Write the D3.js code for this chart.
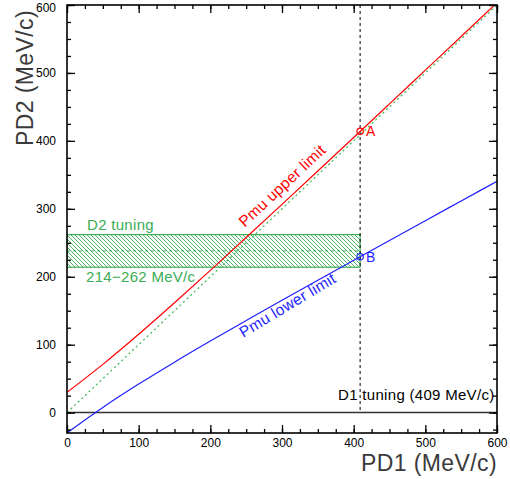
<!DOCTYPE html>
<html>
<head>
<meta charset="utf-8">
<script src="https://cdn.jsdelivr.net/npm/d3@7"></script>
<style>
    body { margin: 0; background: #fff; }
    svg { display: block; font-family: "Liberation Sans", Arial, sans-serif; }
</style>
</head>
<body>
<div id="chart"></div>
<script>
// PD1 sample points and the muon momentum limits
const pd1 = [0, 50, 100, 150, 200, 250, 300, 350, 400, 450, 500, 550, 600]
const pmuUpper = [29.8, 71.0, 115.3, 161.7, 209.4, 257.8, 306.6, 355.7, 405.0, 454.5, 504.1, 553.7, 603.4]
const pmuLower = [-29.8, 7.7, 42.0, 74.3, 105.3, 135.5, 165.3, 194.9, 224.2, 253.4, 282.5, 311.5, 340.5]

// PD2 = PD1 reference line
const diagX = [0, 600]
const diagY = [0, 600]

const d1Tuning = 409
const d2Range = [214, 262]
const pointA = [409, 414]
const pointB = [409, 229.5]

const xMajor = [0, 100, 200, 300, 400, 500, 600]
const yMajor = [0, 100, 200, 300, 400, 500, 600]
const xMinor = d3.range(0, 601, 25)
const yMinor = d3.range(-25, 601, 25)

const width = 510
const height = 479
const red = "#ff0000"
const blue = "#1f1fff"
const green = "#3aad55"

const x = d3.scaleLinear().domain([0, 600]).range([67, 497])
const y = d3.scaleLinear().domain([-30, 600]).range([433, 5])

const svg = d3
    .select("#chart")
    .append("svg")
    .attr("width", width)
    .attr("height", height)

const defs = svg.append("defs")
defs.append("clipPath")
    .attr("id", "plot")
    .append("rect")
    .attr("x", x(0))
    .attr("y", y(600))
    .attr("width", x(600) - x(0))
    .attr("height", y(-30) - y(600))

// "\" hatching for the D2 band
const hatch = defs
    .append("pattern")
    .attr("id", "hatch")
    .attr("patternUnits", "userSpaceOnUse")
    .attr("width", 4)
    .attr("height", 4)
hatch.append("path")
    .attr("d", "M-1,-1 L5,5 M-1,3 L1,5 M3,-1 L5,1")
    .attr("stroke", green)
    .attr("stroke-width", 0.9)

const plot = svg.append("g").attr("clip-path", "url(#plot)")

// D2 tuning band
plot.append("rect")
    .attr("x", x(0))
    .attr("y", y(d2Range[1]))
    .attr("width", x(d1Tuning) - x(0))
    .attr("height", y(d2Range[0]) - y(d2Range[1]))
    .attr("fill", "url(#hatch)")
    .attr("stroke", green)
    .attr("stroke-width", 1.2)

plot.append("line")
    .attr("x1", x(0))
    .attr("x2", x(d1Tuning))
    .attr("y1", y((d2Range[0] + d2Range[1]) / 2))
    .attr("y2", y((d2Range[0] + d2Range[1]) / 2))
    .attr("stroke", green)
    .attr("stroke-dasharray", "3,3")

// zero line
plot.append("line")
    .attr("x1", x(0))
    .attr("x2", x(600))
    .attr("y1", y(0))
    .attr("y2", y(0))
    .attr("stroke", "#333")
    .attr("stroke-width", 1.5)

// D1 tuning
plot.append("line")
    .attr("x1", x(d1Tuning))
    .attr("x2", x(d1Tuning))
    .attr("y1", y(600))
    .attr("y2", y(0))
    .attr("stroke", "#000")
    .attr("stroke-dasharray", "3,3")

const line = d3
    .line()
    .x(d => x(d[0]))
    .y(d => y(d[1]))
    .curve(d3.curveMonotoneX)

plot.append("path")
    .attr("d", line(diagX.map((v, i) => [v, diagY[i]])))
    .attr("fill", "none")
    .attr("stroke", "#45bb5f")
    .attr("stroke-width", 1.3)
    .attr("stroke-dasharray", "2,3")

plot.append("path")
    .attr("d", line(pd1.map((v, i) => [v, pmuUpper[i]])))
    .attr("fill", "none")
    .attr("stroke", red)
    .attr("stroke-width", 1.2)

plot.append("path")
    .attr("d", line(pd1.map((v, i) => [v, pmuLower[i]])))
    .attr("fill", "none")
    .attr("stroke", blue)
    .attr("stroke-width", 1.2)

// axes: ticks point inward on all four sides
const axes = svg.append("g").attr("font-size", 12)

const drawAxis = (axis, tx, ty) => {
    const g = axes.append("g").attr("transform", `translate(${tx},${ty})`).call(axis)
    g.select(".domain").remove()
    g.selectAll("line").attr("stroke", "#000").attr("stroke-width", 1.3)
    g.selectAll("text").attr("fill", "#000").attr("font-size", 12).attr("font-family", null)
    return g
}

drawAxis(d3.axisBottom(x).tickValues(xMajor).tickSizeInner(-8).tickSizeOuter(0).tickPadding(5).tickFormat(d3.format("d")), 0, y(-30))
drawAxis(d3.axisBottom(x).tickValues(xMinor).tickSizeInner(-4).tickSizeOuter(0).tickFormat(""), 0, y(-30))
drawAxis(d3.axisTop(x).tickValues(xMajor).tickSizeInner(-8).tickSizeOuter(0).tickFormat(""), 0, y(600))
drawAxis(d3.axisTop(x).tickValues(xMinor).tickSizeInner(-4).tickSizeOuter(0).tickFormat(""), 0, y(600))
const yAxis = drawAxis(d3.axisLeft(y).tickValues(yMajor).tickSizeInner(-8).tickSizeOuter(0).tickPadding(11).tickFormat(d3.format("d")), x(0), 0)
yAxis.selectAll("text").filter(d => d === 600).attr("dy", "0.55em")
drawAxis(d3.axisLeft(y).tickValues(yMinor).tickSizeInner(-4).tickSizeOuter(0).tickFormat(""), x(0), 0)
drawAxis(d3.axisRight(y).tickValues(yMajor).tickSizeInner(-8).tickSizeOuter(0).tickFormat(""), x(600), 0)
drawAxis(d3.axisRight(y).tickValues(yMinor).tickSizeInner(-4).tickSizeOuter(0).tickFormat(""), x(600), 0)

svg.append("rect")
    .attr("x", x(0))
    .attr("y", y(600))
    .attr("width", x(600) - x(0))
    .attr("height", y(-30) - y(600))
    .attr("fill", "none")
    .attr("stroke", "#000")
    .attr("stroke-width", 1.6)

// markers A and B
const marks = [
    { p: pointA, name: "A", color: red },
    { p: pointB, name: "B", color: blue }
]
svg.append("g")
    .selectAll("circle")
    .data(marks)
    .enter()
    .append("circle")
    .attr("cx", d => x(d.p[0]))
    .attr("cy", d => y(d.p[1]))
    .attr("r", 3.2)
    .attr("fill", "none")
    .attr("stroke", d => d.color)
    .attr("stroke-width", 1.2)
svg.append("g")
    .selectAll("text")
    .data(marks)
    .enter()
    .append("text")
    .attr("x", d => x(d.p[0]) + 6)
    .attr("y", d => y(d.p[1]) + 5)
    .attr("font-size", 14)
    .attr("fill", d => d.color)
    .text(d => d.name)

// labels
const label = (txt, px, py, color, angle, size) =>
    svg.append("text")
        .attr("transform", `translate(${px},${py}) rotate(${angle})`)
        .attr("font-size", size || 15)
        .attr("letter-spacing", 0.3)
        .attr("fill", color)
        .text(txt)

label("Pmu upper limit", x(248), y(272), red, -43, 15.5)
label("Pmu lower limit", x(246), y(110), blue, -31, 15.5)
label("D2 tuning", x(0) + 20, y(d2Range[1]) - 5, green, 0)
label(`${d2Range[0]}\u2212${d2Range[1]} MeV/c`, x(0) + 19, y(d2Range[0]) + 15, green, 0)
label(`D1 tuning (${d1Tuning} MeV/c)`, x(d1Tuning) - 22, y(0) - 13, "#000", 0)

svg.append("text")
    .attr("x", x(600))
    .attr("y", 471)
    .attr("text-anchor", "end")
    .attr("font-size", 23)
    .attr("letter-spacing", 0.4)
    .attr("fill", "#3a3a3a")
    .text("PD1 (MeV/c)")

svg.append("text")
    .attr("transform", "translate(33,10) rotate(-90)")
    .attr("text-anchor", "end")
    .attr("font-size", 23)
    .attr("letter-spacing", 0.4)
    .attr("fill", "#3a3a3a")
    .text("PD2 (MeV/c)")
</script>
</body>
</html>
